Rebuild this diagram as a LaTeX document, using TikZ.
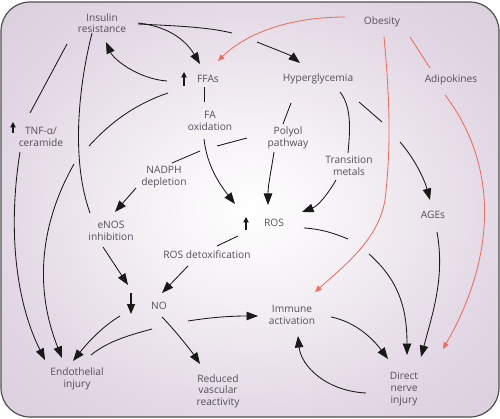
\documentclass[tikz,border=0pt]{standalone}
\usepackage{fontspec}
\setmainfont{Open Sans}
\usetikzlibrary{arrows.meta,calc}
\definecolor{bgedge}{RGB}{211,194,213}
\definecolor{bgmid}{RGB}{226,215,228}
\definecolor{bginner}{RGB}{246,243,246}
\definecolor{txtc}{RGB}{85,79,90}
\definecolor{linec}{RGB}{25,25,25}
\definecolor{redc}{RGB}{238,108,96}
\definecolor{framec}{RGB}{80,80,80}
\pgfdeclareradialshading{bgshade}{\pgfpoint{0bp}{0bp}}{color(0bp)=(white); color(9bp)=(bginner); color(26bp)=(bgmid); color(48bp)=(bgedge); color(75bp)=(bgedge)}
\tikzset{
  lbl/.style={font=\fontsize{10.2}{11.6}\selectfont, text=txtc, align=center, inner sep=1pt},
  con/.style={draw=linec, line width=0.85pt},
  arr/.style={con, -{Triangle[length=11.5pt,width=8.5pt]}},
  rcon/.style={draw=redc, line width=0.85pt},
  rarr/.style={rcon, -{Triangle[length=6.5pt,width=5.5pt]}},
  ind/.style={draw=linec, line width=1.1pt, -{Triangle[length=5.5pt,width=5.5pt]}},
  indbig/.style={draw=linec, line width=1.1pt, -{Triangle[length=10pt,width=8pt]}},
}
\begin{document}
\begin{tikzpicture}[x=1pt,y=-1pt]
\useasboundingbox (0,0) rectangle (500,419);
\fill[white] (0,0) rectangle (500,419);
\shade[shading=bgshade, rounded corners=29pt] (1,2) rectangle (499,417);
\draw[framec, line width=1.2pt, rounded corners=29pt] (1,2) rectangle (499,417);

% nodes
\node[lbl] (IR)   at (102,23)  {Insulin\\resistance};
\node[lbl] (OB)   at (382,22)  {Obesity};
\node[lbl] (FFA)  at (208,79)  {FFAs};
\node[lbl] (HG)   at (318,79)  {Hyperglycemia};
\node[lbl] (ADI)  at (451,80)  {Adipokines};
\node[lbl] (TNF)  at (41,137)  {TNF-α/\\ceramide};
\node[lbl] (FAO)  at (210,121) {FA\\oxidation};
\node[lbl] (POL)  at (288,138) {Polyol\\pathway};
\node[lbl] (TM)   at (349,166) {Transition\\metals};
\node[lbl] (NAD)  at (164,177) {NADPH\\depletion};
\node[lbl] (AGE)  at (433,215) {AGEs};
\node[lbl] (ROS)  at (274,223) {ROS};
\node[lbl] (ENOS) at (111,231) {eNOS\\inhibition};
\node[lbl] (RDX)  at (207,255) {ROS detoxification};
\node[lbl] (NO)   at (159,306) {NO};
\node[lbl] (IMM)  at (292,315) {Immune\\activation};
\node[lbl] (ENDO) at (77,379)  {Endothelial\\injury};
\node[lbl] (RVR)  at (218,391) {Reduced\\vascular\\reactivity};
\node[lbl] (DNI)  at (404,389) {Direct\\nerve\\injury};

% gap coordinates
\coordinate (g2a) at (232,33);  \coordinate (g2b) at (257,42);
\coordinate (g6a) at (89,146);  \coordinate (g6b) at (74,164);
\coordinate (g10a) at (217,146); \coordinate (g10b) at (200,151);
\coordinate (g16a) at (382,122); \coordinate (g16b) at (400,142);
\coordinate (g22a) at (348,239); \coordinate (g22b) at (369,254);

% indicators
\draw[ind] ($(FFA)+(-24,7)$) -- ($(FFA)+(-24,-7)$);
\draw[ind] ($(TNF)+(-28,-4)$) -- ($(TNF)+(-28,-15)$);
\draw[ind] ($(ROS)+(-28,7)$) -- ($(ROS)+(-28,-6)$);
\draw[indbig] ($(NO)+(-28,-13)$) -- ($(NO)+(-28,8)$);

% black connectors
\draw[arr] ($(IR)+(36,0)$) .. controls +(35,4) and +(-12,-20) .. ($(FFA)+(-8,-15)$);
\draw[con] ($(IR)+(36,1)$) .. controls +(40,2) and +(-25,-6) .. (g2a);
\draw[arr] (g2b) .. controls +(15,6) and +(-10,-8) .. ($(HG)+(-18,-16)$);
\draw[arr] ($(FFA)+(-41,2)$) .. controls +(-28,-2) and +(8,18) .. ($(IR)+(4,19)$);
\draw[con] ($(FFA)+(-4,8)$) -- ($(FAO)+(-6,-19)$);
\draw[arr] ($(FAO)+(-6,18)$) .. controls +(3,28) and +(-14,-18) .. ($(ROS)+(-39,-19)$);
\draw[con] ($(FFA)+(-40,14)$) .. controls +(-35,12) and +(20,-22) .. (g6a);
\draw[arr] (g6b) .. controls +(-34,60) and +(-28,-70) .. ($(ENDO)+(-15,-21)$);
\draw[con] ($(IR)+(-35,21)$) -- ($(TNF)+(-11,-24)$);
\draw[arr] ($(TNF)+(-21,15)$) .. controls +(-12,75) and +(-30,-60) .. ($(ENDO)+(-32,-19)$);
\draw[con] ($(IR)+(-10,10)$) .. controls +(-15,60) and +(-18,-50) .. ($(ENOS)+(-21,-18)$);
\draw[con] ($(POL)+(-41,0)$) -- (g10a);
\draw[con] (g10b) -- ($(NAD)+(8,-14)$);
\draw[arr] ($(NAD)+(-28,11)$) -- ($(ENOS)+(4,-19)$);
\draw[con] ($(HG)+(-27,24)$) -- ($(POL)+(-5,-14)$);
\draw[arr] ($(POL)+(-14,14)$) .. controls +(-3,20) and +(0,-20) .. ($(ROS)+(-6,-18)$);
\draw[con] ($(HG)+(22,13)$) .. controls +(12,15) and +(2,-22) .. ($(TM)+(-1,-13)$);
\draw[arr] ($(TM)+(-13,14)$) .. controls +(-8,14) and +(16,-6) .. ($(ROS)+(28,-11)$);
\draw[con] ($(HG)+(41,23)$) -- (g16a);
\draw[arr] (g16b) .. controls +(14,16) and +(-6,-22) .. ($(AGE)+(-3,-15)$);
\draw[arr] ($(AGE)+(4,17)$) .. controls +(8,45) and +(12,-45) .. ($(DNI)+(17,-32)$);
\draw[con] ($(ROS)+(30,5)$) .. controls +(18,1) and +(-12,-5) .. (g22a);
\draw[arr] (g22b) .. controls +(28,25) and +(0,-50) .. ($(DNI)+(3,-34)$);
\draw[con] ($(ROS)+(-36,13)$) -- ($(RDX)+(10,-9)$);
\draw[arr] ($(RDX)+(-19,11)$) -- ($(NO)+(3,-13)$);
\draw[arr] ($(ENOS)+(-8,16)$) -- ($(NO)+(-31,-21)$);
\draw[arr] ($(NO)+(-39,10)$) .. controls +(-20,12) and +(12,-15) .. ($(ENDO)+(-4,-18)$);
\draw[con] ($(NO)+(-7,23)$) .. controls +(-30,8) and +(15,-12) .. ($(ENDO)+(14,-24)$);
\draw[arr] ($(NO)+(3,11)$) .. controls +(12,12) and +(-8,-12) .. ($(RVR)+(-18,-27)$);
\draw[arr] ($(NO)+(29,15)$) .. controls +(25,-4) and +(-25,0) .. ($(IMM)+(-34,1)$);
\draw[arr] ($(IMM)+(39,2)$) .. controls +(25,5) and +(-15,-20) .. ($(DNI)+(-16,-30)$);
\draw[arr] ($(DNI)+(-38,4)$) .. controls +(-40,-2) and +(3,30) .. ($(IMM)+(6,21)$);

% red connectors
\draw[rarr] ($(OB)+(-37,-5)$) .. controls +(-60,0) and +(25,-25) .. ($(FFA)+(10,-18)$);
\draw[rarr] ($(OB)+(2,15)$) .. controls +(6,63) and +(6,-50) .. ($(OB)+(3,178)$) .. controls +(-7,40) and +(30,-27) .. ($(IMM)+(23,-23)$);
\draw[rcon] ($(OB)+(28,15)$) -- ($(ADI)+(-21,-12)$);
\draw[rarr] ($(ADI)+(-6,15)$) .. controls +(50,65) and +(57,-99) .. ($(DNI)+(39,-40)$);
\end{tikzpicture}
\end{document}
